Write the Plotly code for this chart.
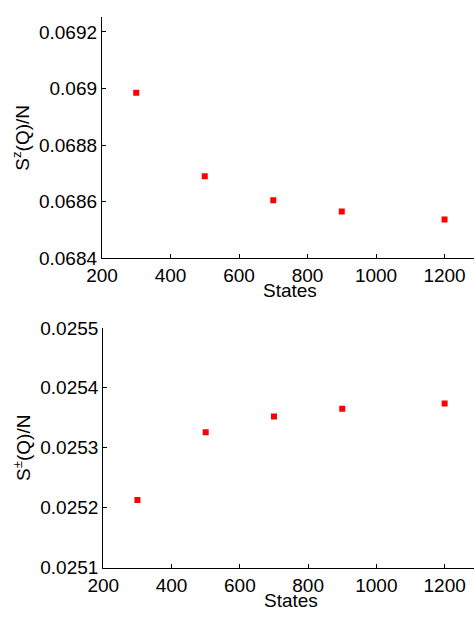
import plotly.graph_objects as go

states = [300, 500, 700, 900, 1200]
sz_q = [0.068985, 0.068690, 0.068605, 0.068565, 0.068537]
spm_q = [0.025213, 0.025326, 0.025352, 0.025365, 0.025374]

x_tickvals = [200, 400, 600, 800, 1000, 1200]
x_ticktext = ["200", "400", "600", "800", "1000", "1200"]
top_tickvals = [0.0684, 0.0686, 0.0688, 0.0690, 0.0692]
top_ticktext = ["0.0684", "0.0686", "0.0688", "0.069", "0.0692"]
bot_tickvals = [0.0251, 0.0252, 0.0253, 0.0254, 0.0255]
bot_ticktext = ["0.0251", "0.0252", "0.0253", "0.0254", "0.0255"]

FONT = "Liberation Sans, Arial, Helvetica, sans-serif"
W, H = 474, 620
XR = [200, 1286]

top_dom = [1 - 257 / H, 1 - 7.7 / H]
bot_dom = [1 - 577.3 / H, 1 - 329 / H]

fig = go.Figure()
marker = dict(symbol="square", size=6, color="#ff0000")
fig.add_trace(go.Scatter(x=states, y=sz_q, mode="markers", marker=marker, showlegend=False,
                         xaxis="x", yaxis="y"))
fig.add_trace(go.Scatter(x=states, y=spm_q, mode="markers", marker=marker, showlegend=False,
                         xaxis="x2", yaxis="y2"))

tfont = dict(size=19, color="black", family=FONT)
axline = dict(showline=True, linecolor="black", linewidth=1.3,
              ticks="inside", ticklen=4, tickcolor="black", tickwidth=1,
              showgrid=False, zeroline=False, mirror=False)

fig.update_layout(
    width=W, height=H,
    margin=dict(l=102, r=0, t=0, b=0),
    plot_bgcolor="white", paper_bgcolor="white",
    xaxis=dict(domain=[0.0, 1.0], range=XR, anchor="y", tickvals=x_tickvals, ticktext=x_ticktext,
               tickfont=tfont, **axline),
    xaxis3=dict(domain=[0.0, 1.0], range=XR, anchor="y", overlaying="x", side="top",
                tickvals=x_tickvals, showticklabels=False, **axline),
    yaxis=dict(domain=top_dom, range=[0.0684, 0.069251], anchor="x",
               tickvals=top_tickvals, ticktext=top_ticktext, tickfont=tfont,
               title=dict(text="S<sup>z</sup>(Q)/N", font=tfont, standoff=4), **axline),
    xaxis2=dict(domain=[0.0035, 1.0], range=XR, anchor="y2", tickvals=x_tickvals, ticktext=x_ticktext,
                tickfont=tfont, **axline),
    xaxis4=dict(domain=[0.0035, 1.0], range=XR, anchor="y2", overlaying="x2", side="top",
                tickvals=x_tickvals, showticklabels=False, **axline),
    yaxis2=dict(domain=bot_dom, range=[0.0251, 0.0255], anchor="x2",
                tickvals=bot_tickvals, ticktext=bot_ticktext, tickfont=tfont,
                title=dict(text="S<sup>±</sup>(Q)/N", font=tfont, standoff=4), **axline),
    annotations=[
        dict(text="States", xref="x", yref="paper", x=(200 + 1200) / 2 + 50, y=1 - 290 / H,
             xanchor="center", yanchor="middle", showarrow=False, font=tfont),
        dict(text="States", xref="x2", yref="paper", x=(200 + 1200) / 2 + 50, y=1 - 611.5 / H,
             xanchor="center", yanchor="middle", showarrow=False, font=tfont),
    ],
)

fig.write_html("out.html")
